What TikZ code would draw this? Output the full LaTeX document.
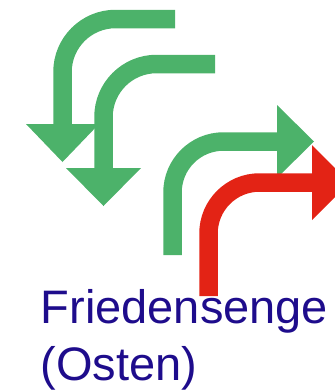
\documentclass[tikz,border=0pt]{standalone}
\usepackage{fontspec}
\setmainfont{Liberation Sans}
\definecolor{arrgreen}{RGB}{76,178,106}
\definecolor{arrred}{RGB}{227,35,21}
\definecolor{txtblue}{RGB}{30,12,140}
\tikzset{
  shaft/.style={line width=18.5pt, line cap=butt, rounded corners=#1},
  shaft/.default=53pt,
  lbl/.style={anchor=base west, inner sep=0pt, text=txtblue, font=\fontsize{47}{57}\selectfont}
}
\begin{document}
\begin{tikzpicture}[x=1pt,y=-1pt]
\useasboundingbox (0,0) rectangle (335,392);
\clip (0,0) rectangle (335,392);
% arrow 1 (green, down)
\coordinate (a1s) at (175,19);
\coordinate (a1c) at (62.5,19);
\coordinate (a1e) at (62.5,124);
\draw[arrgreen, shaft] (a1s) -- (a1c) -- (a1e);
\fill[arrgreen] (26,124) -- (99,124) -- (62.5,162) -- cycle;
% arrow 2 (green, down)
\coordinate (a2s) at (215,64);
\coordinate (a2c) at (103.5,64);
\coordinate (a2e) at (103.5,168);
\draw[arrgreen, shaft] (a2s) -- (a2c) -- (a2e);
\fill[arrgreen] (66,168) -- (141,168) -- (103.5,206) -- cycle;
% arrow 3 (green, right)
\coordinate (a3s) at (172.5,255);
\coordinate (a3c) at (172.5,141.5);
\coordinate (a3e) at (277,141.5);
\draw[arrgreen, shaft=51pt] (a3s) -- (a3c) -- (a3e);
\fill[arrgreen] (277,105) -- (277,178) -- (314,141.5) -- cycle;
% arrow 4 (red, right)
\coordinate (a4s) at (208.5,296);
\coordinate (a4c) at (208.5,182.5);
\coordinate (a4e) at (312,182.5);
\draw[arrred, shaft=51pt] (a4s) -- (a4c) -- (a4e);
\fill[arrred] (312,145) -- (312,220) -- (349.5,182.5) -- cycle;
% label
\node[lbl] (t1) at (40.5,323) {Friedensenge};
\node[lbl] (t2) at (40.5,380) {(Osten)};
\end{tikzpicture}
\end{document}
